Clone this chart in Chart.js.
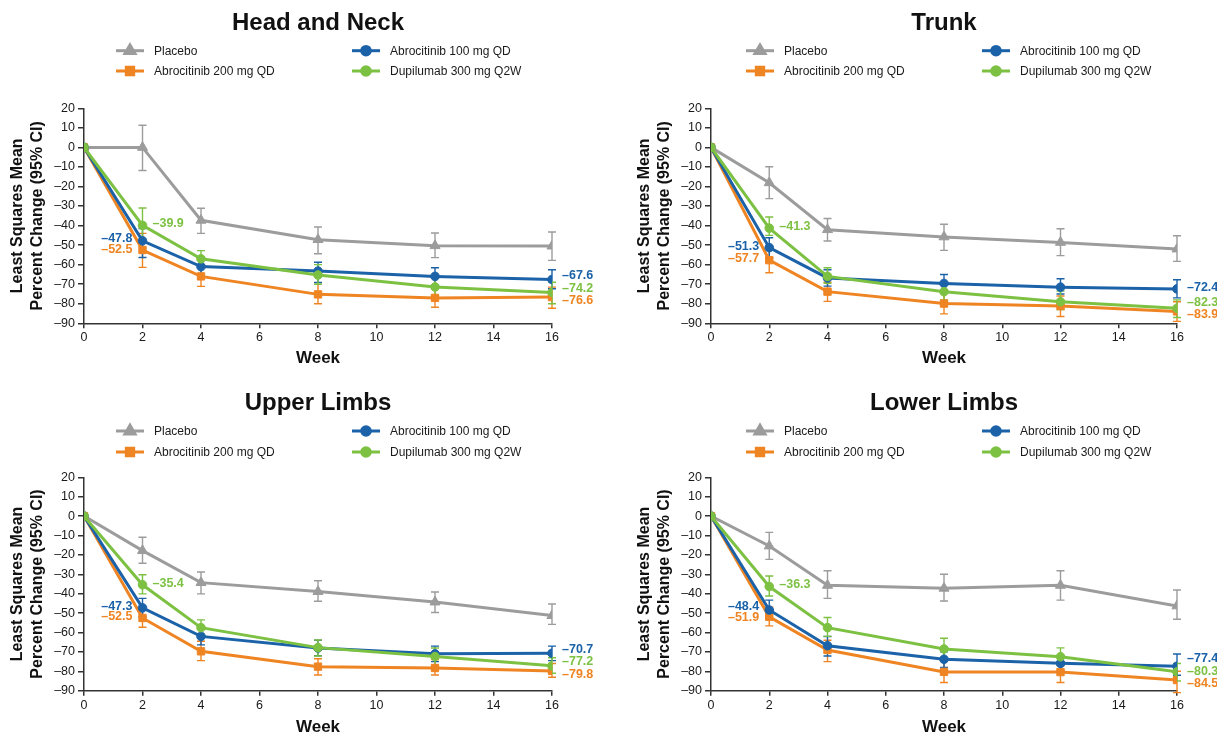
<!DOCTYPE html>
<html>
<head>
<meta charset="utf-8">
<script src="https://cdn.jsdelivr.net/npm/chart.js@4.4.1/dist/chart.umd.min.js"></script>
<style>
  html, body { margin: 0; padding: 0; background: #fff; }
  body { width: 1217px; height: 733px; position: relative; overflow: hidden; }
  .panel { position: absolute; }
  .panel canvas { display: block; }
</style>
</head>
<body>
<div class="panel" id="p0"><canvas id="c0"></canvas></div>
<div class="panel" id="p1"><canvas id="c1"></canvas></div>
<div class="panel" id="p2"><canvas id="c2"></canvas></div>
<div class="panel" id="p3"><canvas id="c3"></canvas></div>
<script>
const weeks = [0, 2, 4, 8, 12, 16];
const xTicks = [0, 2, 4, 6, 8, 10, 12, 14, 16];
const yTicks = [20, 10, 0, -10, -20, -30, -40, -50, -60, -70, -80, -90];
const panelTitles = ['Head and Neck', 'Trunk', 'Upper Limbs', 'Lower Limbs'];
const seriesNames = ['Placebo', 'Abrocitinib 100 mg QD', 'Abrocitinib 200 mg QD', 'Dupilumab 300 mg Q2W'];

// rows: Placebo, Abrocitinib 100, Abrocitinib 200, Dupilumab
const headNeckMean = [
  [0, 0, -37.3, -47.2, -50.3, -50.5],
  [0, -47.8, -61.0, -63.3, -66.0, -67.6],
  [0, -52.5, -66.0, -75.2, -77.0, -76.6],
  [0, -39.9, -57.0, -65.3, -71.4, -74.2]
];
const headNeckLow = [
  [null, -11.8, -44.0, -54.4, -56.4, -57.8],
  [null, -56.3, -65.5, -69.1, -70.5, -72.3],
  [null, -61.4, -71.1, -80.0, -81.8, -82.3],
  [null, -48.0, -61.0, -70.0, -76.0, -80.0]
];
const headNeckHigh = [
  [null, 11.3, -31.1, -40.7, -43.8, -43.3],
  [null, -41.5, -56.0, -58.8, -61.6, -62.6],
  [null, -44.0, -60.0, -70.1, -72.0, -71.5],
  [null, -31.0, -52.8, -60.0, -66.5, -69.0]
];

const trunkMean = [
  [0, -18.1, -42.1, -45.8, -48.6, -52.0],
  [0, -51.3, -66.8, -69.6, -71.5, -72.4],
  [0, -57.7, -73.8, -79.9, -81.2, -83.9],
  [0, -41.3, -66.0, -73.8, -79.0, -82.3]
];
const trunkLow = [
  [null, -26.2, -47.9, -52.7, -55.4, -58.3],
  [null, -56.5, -71.0, -74.0, -75.0, -77.0],
  [null, -64.1, -78.8, -85.2, -86.5, -89.0],
  [null, -45.0, -69.5, -78.0, -83.0, -87.0]
];
const trunkHigh = [
  [null, -9.9, -36.4, -39.3, -41.6, -45.2],
  [null, -46.2, -62.6, -65.0, -67.2, -67.7],
  [null, -51.0, -69.0, -74.6, -76.0, -79.0],
  [null, -35.6, -61.6, -69.0, -73.5, -78.0]
];

const upperMean = [
  [0, -17.8, -34.3, -38.9, -44.3, -51.3],
  [0, -47.3, -62.0, -68.0, -71.0, -70.7],
  [0, -52.5, -69.7, -77.6, -78.3, -79.8],
  [0, -35.4, -57.5, -67.8, -72.4, -77.2]
];
const upperLow = [
  [null, -24.3, -40.1, -43.9, -49.7, -55.8],
  [null, -52.0, -66.4, -72.0, -75.0, -74.5],
  [null, -57.3, -74.5, -81.9, -81.9, -83.1],
  [null, -40.1, -61.0, -72.1, -77.0, -81.0]
];
const upperHigh = [
  [null, -10.9, -28.8, -33.3, -39.1, -45.3],
  [null, -42.4, -57.0, -64.0, -67.0, -67.0],
  [null, -47.5, -64.5, -73.5, -74.0, -76.0],
  [null, -30.2, -53.5, -63.9, -68.0, -73.0]
];

const lowerMean = [
  [0, -15.4, -35.7, -37.2, -35.7, -46.3],
  [0, -48.4, -66.8, -73.8, -75.9, -77.4],
  [0, -51.9, -69.0, -80.3, -80.4, -84.5],
  [0, -36.3, -57.5, -68.5, -72.5, -80.3]
];
const lowerLow = [
  [null, -22.3, -42.4, -43.8, -43.3, -53.2],
  [null, -53.0, -72.1, -78.0, -80.0, -82.0],
  [null, -56.6, -75.0, -85.8, -85.8, -91.0],
  [null, -41.2, -62.0, -74.0, -77.0, -85.0]
];
const lowerHigh = [
  [null, -8.4, -28.2, -30.0, -28.2, -38.1],
  [null, -43.3, -62.1, -70.0, -72.0, -71.1],
  [null, -47.0, -64.0, -75.0, -75.0, -80.0],
  [null, -30.9, -52.3, -63.0, -67.9, -76.0]
];

const panelMeans = [headNeckMean, trunkMean, upperMean, lowerMean];
const panelLows = [headNeckLow, trunkLow, upperLow, lowerLow];
const panelHighs = [headNeckHigh, trunkHigh, upperHigh, lowerHigh];

// styling
const colors = ['#9c9c9c', '#1b62a8', '#ef8423', '#7dc143'];
const pointStyles = ['triangle', 'circle', 'rect', 'circle'];
const pointSizes = [5.8, 4.3, 5.2, 4.3];
const drawOrder = [4, 2, 3, 1];
const FONT = '"Liberation Sans", Arial, Helvetica, sans-serif';
const TEXT = '#1a1a1a';
const AXIS = '#333';

Chart.defaults.font.family = FONT;

const panels = [
  { left: 0,   top: 0,   w: 610, h: 370, padR: 58, legendDx: 0, row: 0 },
  { left: 627, top: 0,   w: 590, h: 370, padR: 40, legendDx: 3, row: 0 },
  { left: 0,   top: 370, w: 610, h: 373, padR: 58, legendDx: 0, row: 1 },
  { left: 627, top: 370, w: 590, h: 373, padR: 40, legendDx: 3, row: 1 }
];
const rows = [
  { titlePad: { top: 8.6, bottom: 70.9 }, legendY: [50.7, 71], xHeight: 46.7, weekPad: 1.8 },
  { titlePad: { top: 18.6, bottom: 59.9 }, legendY: [61, 82], xHeight: 52.3, weekPad: 5.8 }
];

function fmt(v) {
  return (v < 0 ? '\u2013' : '') + Math.abs(v).toFixed(1);
}
function tickFmt(v) {
  return (v < 0 ? '\u2013' : '') + Math.abs(v);
}

const errorBars = {
  id: 'errorBars',
  beforeDatasetsDraw(chart) {
    const ctx = chart.ctx;
    const xs = chart.scales.x, ys = chart.scales.y;
    chart.data.datasets.slice().sort((a, b) => b.order - a.order).forEach(ds => {
      ctx.save();
      ctx.strokeStyle = ds.borderColor;
      ctx.lineWidth = 1.4;
      ds.low.forEach((lo, i) => {
        if (lo == null) return;
        const px = xs.getPixelForValue(weeks[i]);
        const y1 = ys.getPixelForValue(lo);
        const y2 = ys.getPixelForValue(ds.high[i]);
        ctx.beginPath();
        ctx.moveTo(px, y1); ctx.lineTo(px, y2);
        ctx.moveTo(px - 4, y1); ctx.lineTo(px + 4, y1);
        ctx.moveTo(px - 4, y2); ctx.lineTo(px + 4, y2);
        ctx.stroke();
      });
      ctx.restore();
    });
  }
};

function spread(items, gap) {
  items.sort((a, b) => a.y - b.y);
  for (let k = 0; k < 40; k++) {
    let moved = false;
    for (let j = 0; j < items.length - 1; j++) {
      const d = items[j + 1].y - items[j].y;
      if (d < gap - 0.01) {
        const m = (gap - d) / 2;
        items[j].y -= m;
        items[j + 1].y += m;
        moved = true;
      }
    }
    if (!moved) break;
  }
}

const valueLabels = {
  id: 'valueLabels',
  afterDatasetsDraw(chart) {
    const ctx = chart.ctx;
    const xs = chart.scales.x, ys = chart.scales.y;
    const dsets = chart.data.datasets;
    const groups = [
      { i: 1, side: 'left', members: [1, 2], gap: 10.5 },
      { i: 1, side: 'right', members: [3], gap: 12 },
      { i: 5, side: 'right', members: [1, 2, 3], gap: 12.5 }
    ];
    ctx.save();
    ctx.font = 'bold 12.5px ' + FONT;
    ctx.textBaseline = 'middle';
    groups.forEach(g => {
      const px = xs.getPixelForValue(weeks[g.i]);
      const items = g.members.map(m => ({
        m, v: dsets[m].data[g.i].y, y: ys.getPixelForValue(dsets[m].data[g.i].y) - 1.5
      }));
      spread(items, g.gap);
      items.forEach(it => {
        ctx.fillStyle = dsets[it.m].borderColor;
        ctx.textAlign = g.side === 'left' ? 'right' : 'left';
        ctx.fillText(fmt(it.v), g.side === 'left' ? px - 10 : px + 10, it.y);
      });
    });
    ctx.restore();
  }
};

const gridLegend = {
  id: 'gridLegend',
  afterDraw(chart, args, opts) {
    const ctx = chart.ctx;
    const base = chart.chartArea.left + opts.dx;
    const colX = [32, 268];
    const slots = [[0, 0], [1, 0], [0, 1], [1, 1]];
    ctx.save();
    seriesNames.forEach((name, s) => {
      const [c, r] = slots[s];
      const x0 = base + colX[c];
      const y0 = opts.rows[r];
      ctx.strokeStyle = colors[s];
      ctx.fillStyle = colors[s];
      ctx.lineWidth = 3;
      ctx.beginPath();
      ctx.moveTo(x0, y0);
      ctx.lineTo(x0 + 28, y0);
      ctx.stroke();
      Chart.helpers.drawPoint(ctx, {
        pointStyle: pointStyles[s], radius: pointSizes[s], rotation: 0, borderWidth: 1
      }, x0 + 14, y0);
      ctx.fillStyle = TEXT;
      ctx.font = '12px ' + FONT;
      ctx.textAlign = 'left';
      ctx.textBaseline = 'middle';
      ctx.fillText(name, x0 + 38, y0 + 0.5);
    });
    ctx.restore();
  }
};

panels.forEach((p, k) => {
  const box = document.getElementById('p' + k);
  box.style.left = p.left + 'px';
  box.style.top = p.top + 'px';
  const canvas = document.getElementById('c' + k);
  canvas.width = p.w;
  canvas.height = p.h;
  const rowCfg = rows[p.row];

  const datasets = seriesNames.map((name, s) => ({
    label: name,
    data: weeks.map((w, i) => ({ x: w, y: panelMeans[k][s][i] })),
    low: panelLows[k][s],
    high: panelHighs[k][s],
    borderColor: colors[s],
    backgroundColor: colors[s],
    pointBackgroundColor: colors[s],
    pointBorderColor: colors[s],
    pointStyle: pointStyles[s],
    pointRadius: pointSizes[s],
    pointBorderWidth: 1,
    borderWidth: 3,
    tension: 0,
    order: drawOrder[s]
  }));

  new Chart(canvas, {
    type: 'line',
    data: { datasets },
    options: {
      responsive: false,
      animation: false,
      events: [],
      layout: { padding: { left: 0, right: p.padR, top: 0, bottom: 0 } },
      plugins: {
        legend: { display: false },
        tooltip: { enabled: false },
        title: {
          display: true,
          text: panelTitles[k],
          fullSize: false,
          color: '#111',
          font: { size: 24, weight: 'bold', lineHeight: 1.2 },
          padding: rowCfg.titlePad
        },
        gridLegend: { dx: p.legendDx, rows: rowCfg.legendY }
      },
      scales: {
        x: {
          type: 'linear',
          min: 0,
          max: 16,
          afterBuildTicks: sc => { sc.ticks = xTicks.map(v => ({ value: v })); },
          afterFit: sc => { sc.height = rowCfg.xHeight; },
          grid: { drawOnChartArea: false, drawTicks: true, tickLength: 5, color: AXIS, lineWidth: 1.5 },
          border: { display: true, color: AXIS, width: 1.5 },
          ticks: {
            color: TEXT, padding: 2, maxRotation: 0, autoSkip: false,
            font: { size: 12.5, lineHeight: 1.2 },
            callback: v => tickFmt(v)
          },
          title: {
            display: true, text: 'Week', color: '#111',
            font: { size: 17, weight: 'bold', lineHeight: 1.2 },
            padding: { top: 0, bottom: rowCfg.weekPad }
          }
        },
        y: {
          min: -90,
          max: 20,
          afterBuildTicks: sc => { sc.ticks = yTicks.map(v => ({ value: v })); },
          afterFit: sc => { sc.width = 84; },
          grid: { drawOnChartArea: false, drawTicks: true, tickLength: 6, color: AXIS, lineWidth: 1.5 },
          border: { display: true, color: AXIS, width: 1.5 },
          ticks: {
            color: TEXT, padding: 3,
            font: { size: 12.5, lineHeight: 1.2 },
            callback: v => tickFmt(v)
          },
          title: {
            display: true,
            text: ['Least Squares Mean', 'Percent Change (95% CI)'],
            color: '#111',
            font: { size: 16, weight: 'bold', lineHeight: 1.2 },
            padding: { top: 8.4, bottom: 0 }
          }
        }
      }
    },
    plugins: [errorBars, valueLabels, gridLegend]
  });
});
</script>
</body>
</html>
